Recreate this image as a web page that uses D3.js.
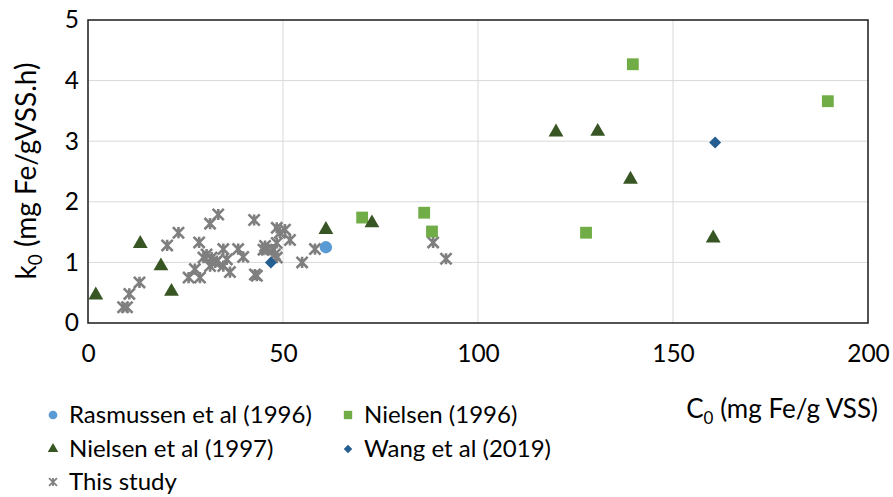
<!DOCTYPE html>
<html>
<head>
<meta charset="utf-8">
<script src="https://cdn.jsdelivr.net/npm/d3@7"></script>
<style>
  body { margin: 0; background: #fff; }
  text { font-family: Lato, "Open Sans", sans-serif; fill: #000; }
</style>
</head>
<body>
<svg id="chart"></svg>
<script>
var w = 893;
var h = 497;

// data: [C0, k0]
var rasmussen = [[61, 1.25]];
var nielsen96 = [[70.3, 1.74], [86.2, 1.82], [88.2, 1.51], [127.7, 1.49], [139.7, 4.27], [189.7, 3.66]];
var nielsen97 = [[2.0, 0.46], [13.4, 1.31], [18.7, 0.94], [21.4, 0.52], [61, 1.54], [72.8, 1.65],
  [120, 3.15], [130.7, 3.16], [139.1, 2.37], [160.3, 1.40]];
var wang = [[46.9, 1.0], [160.8, 2.98]];
var thisStudy = [[9.0, 0.26], [10.0, 0.26], [10.6, 0.48], [13.2, 0.67], [20.3, 1.28], [23.2, 1.49],
  [25.8, 0.75], [27.4, 0.89], [28.5, 1.33], [28.7, 0.75], [29.6, 1.08], [30.4, 1.13], [31.7, 1.08],
  [32.6, 1.0], [31.3, 0.94], [31.3, 1.64], [33.4, 1.79], [33.0, 1.02], [34.7, 1.22], [34.7, 0.94],
  [35.6, 1.05], [36.4, 0.84], [38.5, 1.22], [39.8, 1.09], [42.6, 1.70], [42.8, 0.80], [43.3, 0.78],
  [45.0, 1.21], [45.8, 1.21], [45.4, 1.27], [47.5, 1.21], [47.9, 1.13], [48.4, 1.08], [48.4, 1.57],
  [49.2, 1.49], [50.5, 1.54], [48.4, 1.32], [51.8, 1.37], [54.9, 1.0], [58.2, 1.22], [88.5, 1.33],
  [91.8, 1.06]];

var xTicks = [0, 50, 100, 150, 200];
var yTicks = [0, 1, 2, 3, 4, 5];

var svg = d3.select('#chart').attr('width', w).attr('height', h);

var x = d3.scaleLinear().domain([0, 200]).range([88, 868]);
var y = d3.scaleLinear().domain([0, 5]).range([323, 20]);

// gridlines
svg.selectAll('line.gx')
  .data(xTicks.slice(1, -1))
  .enter()
  .append('line')
  .attr('x1', function (d) { return x(d); })
  .attr('x2', function (d) { return x(d); })
  .attr('y1', y(0))
  .attr('y2', y(5))
  .style('stroke', '#d9d9d9')
  .style('stroke-width', 1);

svg.selectAll('line.gy')
  .data(yTicks.slice(1, -1))
  .enter()
  .append('line')
  .attr('x1', x(0))
  .attr('x2', x(200))
  .attr('y1', function (d) { return y(d); })
  .attr('y2', function (d) { return y(d); })
  .style('stroke', '#d9d9d9')
  .style('stroke-width', 1);

// plot frame
svg.append('rect')
  .attr('x', x(0))
  .attr('y', y(5))
  .attr('width', x(200) - x(0))
  .attr('height', y(0) - y(5))
  .style('fill', 'none')
  .style('stroke', '#1a1a1a')
  .style('stroke-width', 1.5);

// axes (labels only)
var xAxis = svg.append('g')
  .attr('transform', 'translate(0,' + y(0) + ')')
  .call(d3.axisBottom(x).tickValues(xTicks).tickSize(0).tickPadding(22));
var yAxis = svg.append('g')
  .attr('transform', 'translate(' + x(0) + ',0)')
  .call(d3.axisLeft(y).tickValues(yTicks).tickFormat(d3.format('d')).tickSize(0).tickPadding(9));
[xAxis, yAxis].forEach(function (a) {
  a.select('.domain').remove();
  a.selectAll('text').style('font-size', '24.5px').style('font-family', 'Lato, sans-serif').attr('fill', '#000');
});

// axis titles
svg.append('text')
  .attr('x', 878)
  .attr('y', 418)
  .attr('text-anchor', 'end')
  .style('font-size', '26px')
  .html('C<tspan font-size="17px" dy="6">0</tspan><tspan dy="-6"> (mg Fe/g VSS)</tspan>');

svg.append('text')
  .attr('transform', 'translate(36,171) rotate(-90)')
  .attr('text-anchor', 'middle')
  .style('font-size', '28px')
  .html('k<tspan font-size="19px" dy="6">0</tspan><tspan dy="-6"> (mg Fe/gVSS.h)</tspan>');

// markers
var star = {
  draw: function (ctx, size) {
    var r = Math.sqrt(size) / 2;
    ctx.moveTo(0, -r); ctx.lineTo(0, r);
    ctx.moveTo(-r, -r); ctx.lineTo(r, r);
    ctx.moveTo(-r, r); ctx.lineTo(r, -r);
  }
};
var rhombus = {
  draw: function (ctx, size) {
    var r = Math.sqrt(size / 2);
    ctx.moveTo(0, -r); ctx.lineTo(r, 0); ctx.lineTo(0, r); ctx.lineTo(-r, 0); ctx.closePath();
  }
};

var series = [
  { name: 'Rasmussen et al (1996)', data: rasmussen, type: d3.symbolCircle, size: 120, fill: '#5b9bd5' },
  { name: 'Nielsen (1996)', data: nielsen96, type: d3.symbolSquare, size: 140, fill: '#70ad47' },
  { name: 'Nielsen et al (1997)', data: nielsen97, type: d3.symbolTriangle, size: 95, fill: '#375623' },
  { name: 'Wang et al (2019)', data: wang, type: rhombus, size: 72, fill: '#255e91' },
  { name: 'This study', data: thisStudy, type: star, size: 125, stroke: '#7f7f7f' }
];

var drawOrder = [series[4], series[0], series[1], series[2], series[3]];
drawOrder.forEach(function (s) {
  svg.append('g').selectAll('path')
    .data(s.data)
    .enter()
    .append('path')
    .attr('d', d3.symbol().type(s.type).size(s.size))
    .attr('transform', function (d) { return 'translate(' + x(d[0]) + ',' + y(d[1]) + ')'; })
    .style('fill', s.fill || 'none')
    .style('stroke', s.stroke || 'none')
    .style('stroke-width', s.stroke ? 2.6 : 0);
});

// legend
var legendPos = [[53, 415], [348, 415], [53, 449], [348, 449], [53, 482]];
var leg = svg.append('g').selectAll('g')
  .data(series)
  .enter()
  .append('g')
  .attr('transform', function (d, i) { return 'translate(' + legendPos[i][0] + ',' + legendPos[i][1] + ')'; });

leg.append('path')
  .attr('d', function (d) { return d3.symbol().type(d.type).size(d.size * 0.5)(); })
  .style('fill', function (d) { return d.fill || 'none'; })
  .style('stroke', function (d) { return d.stroke || 'none'; })
  .style('stroke-width', function (d) { return d.stroke ? 1.8 : 0; });

leg.append('text')
  .attr('x', 16)
  .attr('dy', '0.35em')
  .style('font-size', '24px')
  .text(function (d) { return d.name; });
</script>
</body>
</html>
